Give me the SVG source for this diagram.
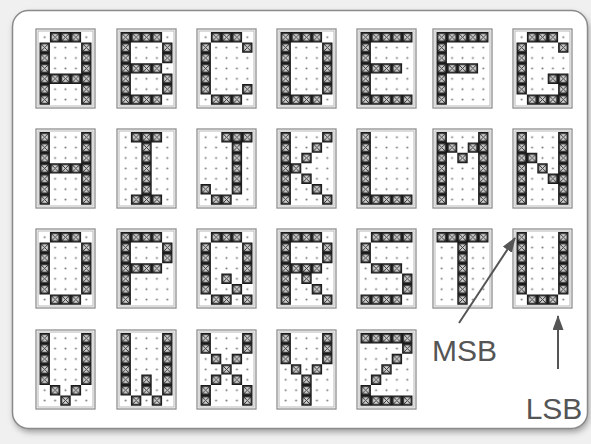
<svg xmlns="http://www.w3.org/2000/svg" width="591" height="444" viewBox="0 0 591 444">
<defs>
<style>
.bx{fill:#fff;stroke:#8e8e8e;stroke-width:1.3}
.bi{fill:none;stroke:#b8b8b8;stroke-width:1}
.dots{fill:url(#dt)}
.on{fill:url(#on)}
.lbl{font-family:"Liberation Sans",Arial,sans-serif;font-size:30px;fill:#555}
.arr{stroke:#555;stroke-width:2;fill:none;marker-end:url(#ah)}
</style>
<pattern id="dt" width="1" height="1" patternUnits="userSpaceOnUse"><circle cx=".5" cy=".5" r=".1" fill="#7a7a7a"/></pattern>
<pattern id="on" width="1" height="1" patternUnits="userSpaceOnUse">
<rect width="1" height="1" fill="#1a1a1a"/>
<rect x=".16" y=".16" width=".68" height=".68" fill="#aaa"/>
<circle cx=".5" cy=".5" r=".26" fill="#d2d2d2"/>
<path d="M.16 .16L.84 .84M.84 .16L.16 .84" stroke="#2e2e2e" stroke-width=".09"/>
</pattern>
<marker id="ah" markerWidth="15" markerHeight="11" refX="14" refY="5.5" orient="auto" markerUnits="userSpaceOnUse"><path d="M0 0L15 5.5L0 11z" fill="#555"/></marker>
<filter id="sh" x="-5%" y="-5%" width="110%" height="110%"><feGaussianBlur stdDeviation="3"/></filter>
<g id="frm"><rect class="bx" width="59" height="79"/><rect class="bi" x="2" y="2" width="55" height="75"/></g>
</defs>
<rect width="591" height="444" fill="#f0f0f0"/>
<g id="frame">
<rect x="14" y="14" width="575" height="418" rx="16" fill="#9a9a9a" filter="url(#sh)"/>
<rect x="12.5" y="10.5" width="575" height="418" rx="16" fill="#fff" stroke="#8a8a8a" stroke-width="1.5"/>
</g>
<g id="A" transform="translate(36,29)"><use href="#frm"/><g transform="translate(3.5,3) scale(10.4)"><rect class="dots" width="5" height="7"/><path class="on" d="M1 0h3v1h-3zM0 1h1v6h-1zM4 1h1v6h-1zM1 4h3v1h-3z"/></g></g>
<g id="B" transform="translate(117,29)"><use href="#frm"/><g transform="translate(3.5,3) scale(10.4)"><rect class="dots" width="5" height="7"/><path class="on" d="M0 0h4v1h-4zM0 1h1v6h-1zM4 1h1v2h-1zM1 3h3v1h-3zM4 4h1v2h-1zM1 6h3v1h-3z"/></g></g>
<g id="C" transform="translate(197,29)"><use href="#frm"/><g transform="translate(3.5,3) scale(10.4)"><rect class="dots" width="5" height="7"/><path class="on" d="M1 0h3v1h-3zM0 1h1v5h-1zM4 1h1v1h-1zM4 5h1v1h-1zM1 6h3v1h-3z"/></g></g>
<g id="D" transform="translate(277,29)"><use href="#frm"/><g transform="translate(3.5,3) scale(10.4)"><rect class="dots" width="5" height="7"/><path class="on" d="M0 0h4v1h-4zM0 1h1v6h-1zM4 1h1v5h-1zM1 6h3v1h-3z"/></g></g>
<g id="E" transform="translate(357,29)"><use href="#frm"/><g transform="translate(3.5,3) scale(10.4)"><rect class="dots" width="5" height="7"/><path class="on" d="M0 0h5v1h-5zM0 1h1v6h-1zM1 3h3v1h-3zM1 6h4v1h-4z"/></g></g>
<g id="F" transform="translate(433,29)"><use href="#frm"/><g transform="translate(3.5,3) scale(10.4)"><rect class="dots" width="5" height="7"/><path class="on" d="M0 0h5v1h-5zM0 1h1v6h-1zM1 3h3v1h-3z"/></g></g>
<g id="G" transform="translate(513,29)"><use href="#frm"/><g transform="translate(3.5,3) scale(10.4)"><rect class="dots" width="5" height="7"/><path class="on" d="M1 0h3v1h-3zM0 1h1v5h-1zM4 1h1v1h-1zM3 4h2v1h-2zM4 5h1v1h-1zM1 6h4v1h-4z"/></g></g>
<g id="H" transform="translate(36,129)"><use href="#frm"/><g transform="translate(3.5,3) scale(10.4)"><rect class="dots" width="5" height="7"/><path class="on" d="M0 0h1v7h-1zM4 0h1v7h-1zM1 3h3v1h-3z"/></g></g>
<g id="I" transform="translate(117,129)"><use href="#frm"/><g transform="translate(3.5,3) scale(10.4)"><rect class="dots" width="5" height="7"/><path class="on" d="M1 0h3v1h-3zM2 1h1v5h-1zM1 6h3v1h-3z"/></g></g>
<g id="J" transform="translate(197,129)"><use href="#frm"/><g transform="translate(3.5,3) scale(10.4)"><rect class="dots" width="5" height="7"/><path class="on" d="M2 0h3v1h-3zM3 1h1v5h-1zM0 5h1v1h-1zM1 6h2v1h-2z"/></g></g>
<g id="K" transform="translate(277,129)"><use href="#frm"/><g transform="translate(3.5,3) scale(10.4)"><rect class="dots" width="5" height="7"/><path class="on" d="M0 0h1v7h-1zM4 0h1v1h-1zM3 1h1v1h-1zM2 2h1v1h-1zM1 3h1v1h-1zM2 4h1v1h-1zM3 5h1v1h-1zM4 6h1v1h-1z"/></g></g>
<g id="L" transform="translate(357,129)"><use href="#frm"/><g transform="translate(3.5,3) scale(10.4)"><rect class="dots" width="5" height="7"/><path class="on" d="M0 0h1v7h-1zM1 6h4v1h-4z"/></g></g>
<g id="M" transform="translate(433,129)"><use href="#frm"/><g transform="translate(3.5,3) scale(10.4)"><rect class="dots" width="5" height="7"/><path class="on" d="M0 0h1v7h-1zM4 0h1v7h-1zM1 1h1v1h-1zM3 1h1v1h-1zM2 2h1v1h-1z"/></g></g>
<g id="N" transform="translate(513,129)"><use href="#frm"/><g transform="translate(3.5,3) scale(10.4)"><rect class="dots" width="5" height="7"/><path class="on" d="M0 0h1v7h-1zM4 0h1v7h-1zM1 2h1v1h-1zM2 3h1v1h-1zM3 4h1v1h-1z"/></g></g>
<g id="O" transform="translate(36,229)"><use href="#frm"/><g transform="translate(3.5,3) scale(10.4)"><rect class="dots" width="5" height="7"/><path class="on" d="M1 0h3v1h-3zM0 1h1v5h-1zM4 1h1v5h-1zM1 6h3v1h-3z"/></g></g>
<g id="P" transform="translate(117,229)"><use href="#frm"/><g transform="translate(3.5,3) scale(10.4)"><rect class="dots" width="5" height="7"/><path class="on" d="M0 0h4v1h-4zM0 1h1v6h-1zM4 1h1v2h-1zM1 3h3v1h-3z"/></g></g>
<g id="Q" transform="translate(197,229)"><use href="#frm"/><g transform="translate(3.5,3) scale(10.4)"><rect class="dots" width="5" height="7"/><path class="on" d="M1 0h3v1h-3zM0 1h1v5h-1zM4 1h1v4h-1zM2 4h1v1h-1zM3 5h1v1h-1zM1 6h2v1h-2zM4 6h1v1h-1z"/></g></g>
<g id="R" transform="translate(277,229)"><use href="#frm"/><g transform="translate(3.5,3) scale(10.4)"><rect class="dots" width="5" height="7"/><path class="on" d="M0 0h4v1h-4zM0 1h1v6h-1zM4 1h1v2h-1zM1 3h3v1h-3zM2 4h1v1h-1zM3 5h1v1h-1zM4 6h1v1h-1z"/></g></g>
<g id="S" transform="translate(357,229)"><use href="#frm"/><g transform="translate(3.5,3) scale(10.4)"><rect class="dots" width="5" height="7"/><path class="on" d="M1 0h4v1h-4zM0 1h1v2h-1zM1 3h3v1h-3zM4 4h1v2h-1zM0 6h4v1h-4z"/></g></g>
<g id="T" transform="translate(433,229)"><use href="#frm"/><g transform="translate(3.5,3) scale(10.4)"><rect class="dots" width="5" height="7"/><path class="on" d="M0 0h5v1h-5zM2 1h1v6h-1z"/></g></g>
<g id="U" transform="translate(513,229)"><use href="#frm"/><g transform="translate(3.5,3) scale(10.4)"><rect class="dots" width="5" height="7"/><path class="on" d="M0 0h1v6h-1zM4 0h1v6h-1zM1 6h3v1h-3z"/></g></g>
<g id="V" transform="translate(36,330)"><use href="#frm"/><g transform="translate(3.5,3) scale(10.4)"><rect class="dots" width="5" height="7"/><path class="on" d="M0 0h1v5h-1zM4 0h1v5h-1zM1 5h1v1h-1zM3 5h1v1h-1zM2 6h1v1h-1z"/></g></g>
<g id="W" transform="translate(117,330)"><use href="#frm"/><g transform="translate(3.5,3) scale(10.4)"><rect class="dots" width="5" height="7"/><path class="on" d="M0 0h1v6h-1zM4 0h1v6h-1zM2 4h1v2h-1zM1 6h1v1h-1zM3 6h1v1h-1z"/></g></g>
<g id="X" transform="translate(197,330)"><use href="#frm"/><g transform="translate(3.5,3) scale(10.4)"><rect class="dots" width="5" height="7"/><path class="on" d="M0 0h1v2h-1zM4 0h1v2h-1zM1 2h1v1h-1zM3 2h1v1h-1zM2 3h1v1h-1zM1 4h1v1h-1zM3 4h1v1h-1zM0 5h1v2h-1zM4 5h1v2h-1z"/></g></g>
<g id="Y" transform="translate(277,330)"><use href="#frm"/><g transform="translate(3.5,3) scale(10.4)"><rect class="dots" width="5" height="7"/><path class="on" d="M0 0h1v3h-1zM4 0h1v3h-1zM1 3h1v1h-1zM3 3h1v1h-1zM2 4h1v3h-1z"/></g></g>
<g id="Z" transform="translate(357,330)"><use href="#frm"/><g transform="translate(3.5,3) scale(10.4)"><rect class="dots" width="5" height="7"/><path class="on" d="M0 0h5v1h-5zM4 1h1v1h-1zM3 2h1v1h-1zM2 3h1v1h-1zM1 4h1v1h-1zM0 5h1v1h-1zM0 6h5v1h-5z"/></g></g>
<g id="connectors">
<line class="arr" x1="459" y1="323" x2="515" y2="238"/>
<line class="arr" x1="558" y1="369" x2="558" y2="316"/>
</g>
<g id="labels">
<text class="lbl" x="432" y="361">MSB</text>
<text class="lbl" x="554" y="419" text-anchor="middle">LSB</text>
</g>
</svg>
